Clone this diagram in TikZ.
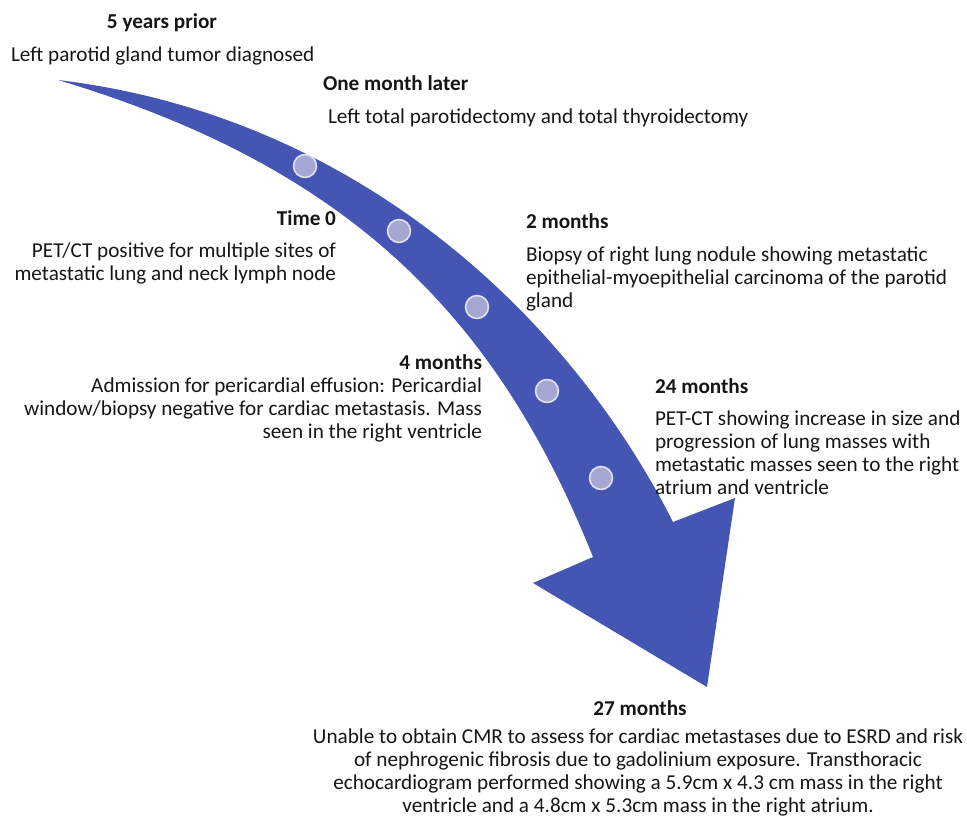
\documentclass[tikz,border=0pt]{standalone}
\usepackage{fontspec}
\setmainfont{Carlito}
\definecolor{arrowblue}{RGB}{68,85,180}
\definecolor{dotfill}{RGB}{164,167,210}
\definecolor{dotring}{RGB}{224,226,244}
\definecolor{txt}{RGB}{22,22,22}

\begin{document}
\begin{tikzpicture}[x=1pt,y=-1pt,
    every node/.style={inner sep=0pt, outer sep=0pt, text=txt,
      font=\fontsize{21.2}{23}\selectfont, execute at begin node=\strut},
    head/.style={font=\fontsize{21.2}{23}\selectfont\bfseries},
    dot/.style={circle, fill=dotfill, draw=dotring, line width=1.6pt, minimum size=18pt,
      execute at begin node={}}]
			\useasboundingbox (0,0) rectangle (967,818);

			% Draw the curved arrow
			\fill[arrowblue] (58,80) .. controls (358,116) and (569.5,317.3) .. (673,522)
			  -- (735,498) -- (707,687) -- (533,583) -- (593,557)
			  .. controls (493,306) and (338,164) .. (58,80) -- cycle;

			% Define dots
			\node (d1) at (305,166) [dot] {};
			\node (d2) at (399,231) [dot] {};
			\node (d3) at (477,307) [dot] {};
			\node (d4) at (547,391) [dot] {};
			\node (d5) at (601,478) [dot] {};

			% Add labels
			\node (h1) at (162,12.9) [head, anchor=north] {5 years prior};
			\node (t1) at (11,45.9) [anchor=north west] {Left parotid gland tumor diagnosed};

			\node (h2) at (323,74.9) [head, anchor=north west] {One month later};
			\node (t2) at (328,107.9) [anchor=north west] {Left total parotidectomy and total thyroidectomy};

			\node (h3) at (336,209.4) [head, anchor=north east] {Time 0};
			\node (t3) at (336,242.9) [anchor=north east, align=right] {PET/CT positive for multiple sites of\\metastatic lung and neck lymph node};

			\node (h4) at (526,212.9) [head, anchor=north west] {2 months};
			\node (t4) at (526,246.9) [anchor=north west, align=left] {Biopsy of right lung nodule showing metastatic\\epithelial-myoepithelial carcinoma of the parotid\\gland};

			\node (h5) at (482,353.9) [head, anchor=north east] {4 months};
			\node (t5) at (482,377.9) [anchor=north east, align=right] {Admission for pericardial effusion: Pericardial\\window/biopsy negative for cardiac metastasis. Mass\\seen in the right ventricle};

			\node (h6) at (655,376.9) [head, anchor=north west] {24 months};
			\node (t6) at (655,410.9) [anchor=north west, align=left] {PET-CT showing increase in size and\\progression of lung masses with\\metastatic masses seen to the right\\atrium and ventricle};

			\node (h7) at (640,699.4) [head, anchor=north] {27 months};
			\node (t7) at (638,729.2) [anchor=north, align=center] {Unable to obtain CMR to assess for cardiac metastases due to ESRD and risk\\of nephrogenic fibrosis due to gadolinium exposure. Transthoracic\\echocardiogram performed showing a 5.9cm x 4.3 cm mass in the right\\ventricle and a 4.8cm x 5.3cm mass in the right atrium.};
		\end{tikzpicture}
\end{document}
